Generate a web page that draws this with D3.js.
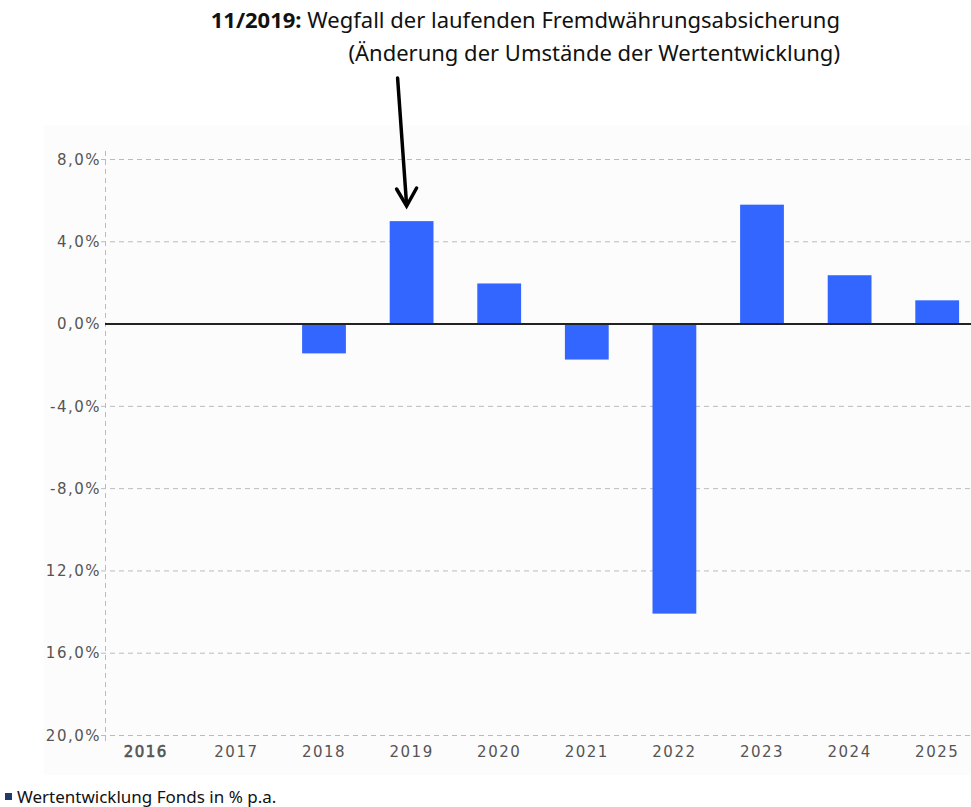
<!DOCTYPE html>
<html>
<head>
<meta charset="utf-8">
<script src="https://cdn.jsdelivr.net/npm/d3@7"></script>
<style>
	body { margin: 0; background: #fff; }
	#chart { width: 971px; height: 807px; }
	.tick text { font-family: "DejaVu Sans", Verdana, sans-serif; font-size: 15px; letter-spacing: 1.5px; fill: #555; }
</style>
</head>
<body>
<div id="chart"></div>
<script>
// data
const years = ["2016","2017","2018","2019","2020","2021","2022","2023","2024","2025"];
const perf = [null, null, -1.45, 4.98, 1.95, -1.75, -14.1, 5.78, 2.35, 1.13];
const tickValues = [8, 4, 0, -4, -8, -12, -16, -20];
const tickLabels = ["8,0%", "4,0%", "0,0%", "-4,0%", "-8,0%", "12,0%", "16,0%", "20,0%"];

const c_bar = '#3366ff',
	c_grid = '#bbbbbb',
	c_legend = '#1f3a6b';

const width = 971, height = 807;
const margin = { top: 159, left: 105, bottom: 72 };

function chart() {
	let svg = d3.select("#chart")
		.append("svg")
		.attr("width", width)
		.attr("height", height);

	// faint plot background
	svg.append("rect")
		.attr("x", 44).attr("y", 125)
		.attr("width", width - 44).attr("height", 650)
		.attr("fill", "#fcfcfc");

	let y = d3.scaleLinear()
		.domain([8, -20])
		.range([margin.top, height - margin.bottom]);

	let x = d3.scaleBand()
		.domain(years)
		.range([margin.left, margin.left + 876])
		.paddingInner(0.5)
		.paddingOuter(0.25);

	// grid
	let grid = svg.append("g").attr("id", "grid");
	grid.selectAll("line")
		.data(tickValues.filter(d => d !== 0))
		.enter()
		.append("line")
		.attr("x1", margin.left - 4)
		.attr("x2", width)
		.attr("y1", d => y(d) + 0.5)
		.attr("y2", d => y(d) + 0.5)
		.attr("stroke", c_grid)
		.attr("stroke-dasharray", "5,4");

	// vertical axis line
	svg.append("line")
		.attr("x1", margin.left + 0.5).attr("x2", margin.left + 0.5)
		.attr("y1", y(8) - 8).attr("y2", y(-20) + 6)
		.attr("stroke", c_grid)
		.attr("stroke-dasharray", "5,4");

	// y axis labels
	let yAxis = svg.append("g")
		.attr("transform", "translate(" + (margin.left - 4) + ",0)")
		.call(d3.axisLeft(y)
			.tickValues(tickValues)
			.tickSize(0)
			.tickPadding(0)
			.tickFormat((d, i) => tickLabels[i]));
	yAxis.select(".domain").remove();
	yAxis.selectAll(".tick text").attr("dy", "0.35em");

	// x axis labels
	let xAxis = svg.append("g")
		.attr("transform", "translate(0," + (y(-20) + 9) + ")")
		.call(d3.axisBottom(x).tickSize(0).tickPadding(2));
	xAxis.select(".domain").remove();
	// 2016 label is drawn doubled in the original
	xAxis.selectAll(".tick")
		.filter(d => d === "2016")
		.select("text")
		.attr("x", -3)
		.attr("stroke", "#555")
		.attr("stroke-width", 0.6);

	// bars
	svg.append("g")
		.attr("id", "bars")
		.selectAll("rect")
		.data(years.map((d, i) => ({ year: d, value: perf[i] })).filter(d => d.value !== null))
		.enter()
		.append("rect")
		.attr("x", d => x(d.year))
		.attr("width", x.bandwidth())
		.attr("y", d => y(Math.max(0, d.value)))
		.attr("height", d => Math.abs(y(d.value) - y(0)))
		.attr("fill", c_bar);

	// zero line
	svg.append("line")
		.attr("x1", margin.left).attr("x2", width)
		.attr("y1", y(0) + 0.5).attr("y2", y(0) + 0.5)
		.attr("stroke", "#222")
		.attr("stroke-width", 2);

	// annotation
	let note = svg.append("text")
		.attr("x", 840)
		.attr("y", 28)
		.attr("text-anchor", "end")
		.style("font-family", "'Noto Sans', sans-serif")
		.style("font-size", "22px")
		.attr("fill", "#111");
	note.append("tspan").attr("font-weight", "bold").text("11/2019:");
	note.append("tspan").text(" Wegfall der laufenden Fremdwährungsabsicherung");

	svg.append("text")
		.attr("x", 840)
		.attr("y", 61)
		.attr("text-anchor", "end")
		.style("font-family", "'Noto Sans', sans-serif")
		.style("font-size", "22px")
		.attr("fill", "#111")
		.text("(Änderung der Umstände der Wertentwicklung)");

	// arrow
	let xa = x("2019") + x.bandwidth() / 2;
	let arrow = svg.append("g")
		.attr("stroke", "#000")
		.attr("stroke-width", 3.5)
		.attr("fill", "none")
		.attr("stroke-linecap", "round");
	arrow.append("line")
		.attr("x1", xa - 14).attr("y1", 78)
		.attr("x2", xa - 5).attr("y2", 205);
	arrow.append("polyline")
		.attr("points", [[xa - 15, 189], [xa - 5, 206], [xa + 5, 188]].map(p => p.join(",")).join(" "));

	// legend
	svg.append("rect")
		.attr("x", 5).attr("y", 793)
		.attr("width", 7).attr("height", 7)
		.attr("fill", c_legend);
	svg.append("text")
		.attr("x", 17)
		.attr("y", 803)
		.style("font-family", "'Noto Sans', sans-serif")
		.style("font-size", "17px")
		.attr("fill", "#111")
		.text("Wertentwicklung Fonds in % p.a.");
}

window.onload = function() {
	chart();
}
</script>
</body>
</html>
